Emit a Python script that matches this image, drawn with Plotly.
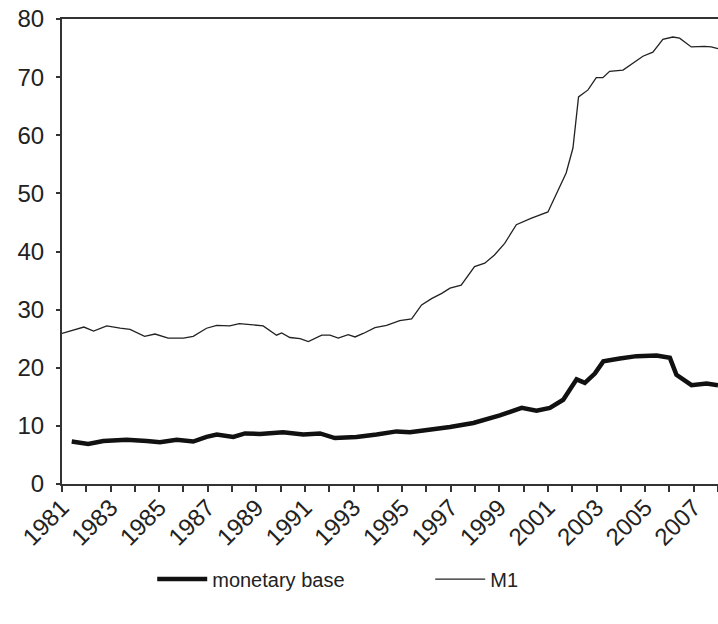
import plotly.graph_objects as go

# values (decimal years)
m1_years = [1981.0, 1981.9, 1982.3, 1982.84, 1983.39, 1983.8, 1984.4, 1984.83, 1985.37, 1986.0,
            1986.4, 1986.95, 1987.37, 1987.9, 1988.3, 1988.74, 1989.28, 1989.83, 1990.04, 1990.38,
            1990.8, 1991.14, 1991.69, 1992.03, 1992.37, 1992.78, 1993.06, 1993.4, 1993.88, 1994.36,
            1994.9, 1995.39, 1995.8, 1996.21, 1996.63, 1996.97, 1997.43, 1997.98, 1998.4, 1998.8,
            1999.22, 1999.7, 2000.3, 2001.0, 2001.41, 2001.75, 2002.03, 2002.26, 2002.65, 2002.99,
            2003.26, 2003.54, 2004.09, 2004.43, 2004.91, 2005.32, 2005.73, 2006.14, 2006.42, 2006.9,
            2007.44, 2007.72, 2008.0]
m1_values = [25.9, 27.0, 26.3, 27.2, 26.8, 26.6, 25.4, 25.8, 25.1, 25.1,
             25.4, 26.8, 27.3, 27.2, 27.6, 27.4, 27.2, 25.6, 26.0, 25.2,
             25.0, 24.5, 25.6, 25.6, 25.1, 25.7, 25.3, 25.9, 26.9, 27.3,
             28.1, 28.4, 30.8, 31.9, 32.8, 33.7, 34.2, 37.4, 38.0, 39.4,
             41.4, 44.6, 45.7, 46.8, 50.6, 53.5, 57.8, 66.6, 67.8, 69.9,
             69.9, 71.0, 71.2, 72.2, 73.6, 74.3, 76.5, 76.9, 76.7, 75.2,
             75.3, 75.2, 74.9]

base_years = [1981.4, 1982.08, 1982.7, 1983.66, 1984.49, 1985.03, 1985.72, 1986.4, 1986.95, 1987.37,
              1988.05, 1988.53, 1989.15, 1990.1, 1990.93, 1991.62, 1992.23, 1993.12, 1993.95, 1994.77,
              1995.32, 1996.14, 1996.97, 1997.93, 1999.02, 1999.92, 2000.53, 2001.08, 2001.63, 2002.18,
              2002.52, 2002.93, 2003.28, 2003.96, 2004.65, 2005.47, 2006.02, 2006.29, 2006.91, 2007.53,
              2008.0]
base_values = [7.3, 6.9, 7.4, 7.6, 7.4, 7.2, 7.6, 7.3, 8.1, 8.5,
               8.1, 8.7, 8.6, 8.9, 8.5, 8.7, 7.9, 8.1, 8.5, 9.05,
               8.9, 9.3, 9.8, 10.5, 11.8, 13.1, 12.6, 13.1, 14.5, 18.0,
               17.4, 19.0, 21.1, 21.6, 22.0, 22.1, 21.7, 18.8, 17.0, 17.3,
               17.0]

year_ticks = list(range(1981, 2009, 2))

fig = go.Figure()
fig.add_trace(go.Scatter(x=base_years, y=base_values, mode="lines", name="monetary base",
                         line=dict(color="#111111", width=4.5)))
fig.add_trace(go.Scatter(x=m1_years, y=m1_values, mode="lines", name="M1",
                         line=dict(color="#222222", width=1.3)))

axis_font = dict(family="Liberation Sans, Arial, sans-serif", size=24, color="#222222")
fig.update_xaxes(
    range=[1981, 2008], tickvals=year_ticks, ticktext=[str(y) for y in year_ticks],
    tickangle=-45, ticks="outside", ticklen=6, tickwidth=1.5, tickcolor="#333333",
    minor=dict(tickvals=list(range(1981, 2009)), ticks="outside", ticklen=6, tickwidth=1.5, tickcolor="#333333"),
    showline=True, linecolor="#333333", linewidth=2, mirror=True, ticklabelstandoff=-8,
    showgrid=False, zeroline=False, tickfont=axis_font, automargin=False,
)
fig.update_yaxes(
    range=[0, 80], dtick=10, ticks="outside", ticklen=4, tickwidth=1.5, tickcolor="#333333",
    showline=True, linecolor="#333333", linewidth=2, ticklabelstandoff=7,
    showgrid=False, zeroline=False, tickfont=axis_font, automargin=False,
)
fig.update_layout(
    width=718, height=624,
    margin=dict(l=62, r=0, t=19, b=140),
    plot_bgcolor="white", paper_bgcolor="white",
    showlegend=True,
    legend=dict(orientation="h", xref="container", yref="container", x=0.212, y=0.072,
                xanchor="left", yanchor="middle", entrywidth=213, itemwidth=50,
                font=dict(family="Liberation Sans, Arial, sans-serif", size=20, color="#222222")),
)
# drop the default page margin so the figure sits at the window's corner
fig.write_html("out.html", config={"displayModeBar": False},
               post_script="document.body.style.margin='0';document.body.style.overflow='hidden';")
